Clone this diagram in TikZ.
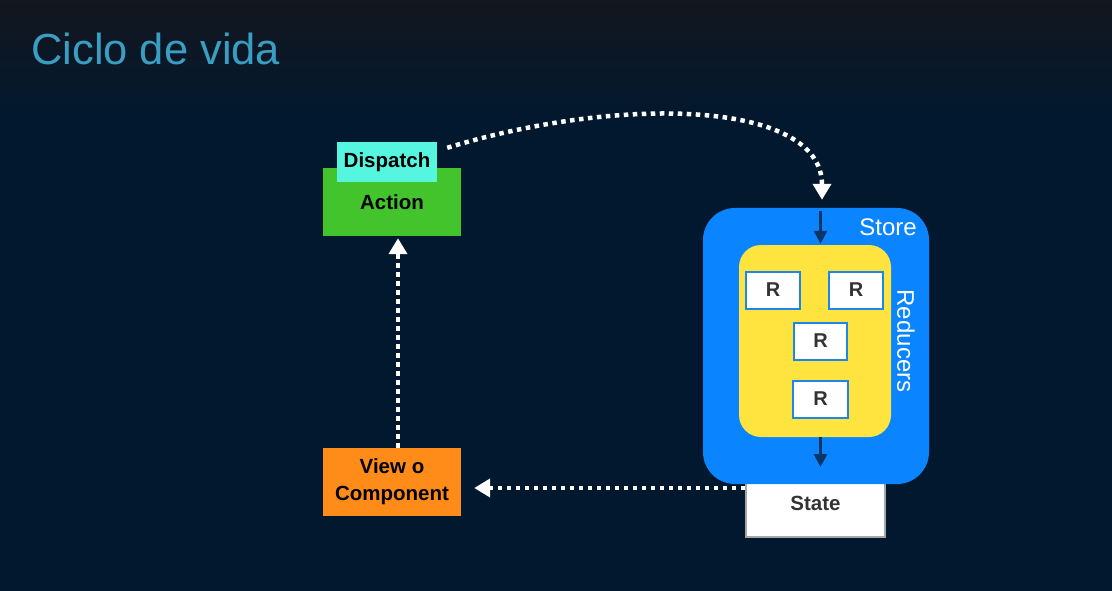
\documentclass[tikz,border=0pt]{standalone}
\usepackage{fontspec}
\setmainfont{Liberation Sans}
\usetikzlibrary{arrows.meta,calc}
\definecolor{bg}{HTML}{02182F}
\definecolor{bgtop}{HTML}{13171E}
\definecolor{titlec}{HTML}{3A9DC2}
\definecolor{actgreen}{HTML}{43C42C}
\definecolor{dispcyan}{HTML}{55F5DF}
\definecolor{vieworange}{HTML}{FF8C19}
\definecolor{storeblue}{HTML}{0A84FF}
\definecolor{redyellow}{HTML}{FFE33F}
\definecolor{rborder}{HTML}{1A86EE}
\definecolor{darktext}{HTML}{333333}
\definecolor{innerarrow}{HTML}{0B3566}
\tikzset{
  box/.style={draw=none, inner sep=0pt, align=center, font=\fontsize{20.5}{27}\selectfont\bfseries, text=black},
  rbox/.style={draw=rborder, line width=2pt, fill=white, minimum width=54pt, minimum height=37pt, inner sep=0pt, font=\fontsize{20}{22}\selectfont\bfseries, text=darktext},
  dotarrow/.style={draw=white, line width=4.5pt, dash pattern=on 4.5pt off 4.5pt, -{Triangle[width=18pt,length=16pt]}},
  innerarr/.style={draw=innerarrow, line width=3pt, -{Triangle[width=13pt,length=13pt]}},
}
\begin{document}
\begin{tikzpicture}[x=1pt,y=-1pt]
\useasboundingbox (0,0) rectangle (1112,591);
\fill[bg] (0,0) rectangle (1112,591);
\shade[top color=bgtop, bottom color=bg] (0,0) rectangle (1112,120);

\node[anchor=base west, inner sep=0pt, text=titlec, font=\fontsize{43.5}{50}\selectfont] (title) at (31,65) {Ciclo de vida};

% Action + Dispatch
\node[box, fill=actgreen, minimum width=138pt, minimum height=68pt] (action) at (392,202) {Action};
\node[box, fill=dispcyan, minimum width=100pt, minimum height=40pt] (dispatch) at (387,162) {\raisebox{-1.5pt}{Dispatch}};

% View
\node[box, fill=vieworange, minimum width=138pt, minimum height=68pt] (view) at (392,482) {View o\\Component};

% State (under the store)
\node[draw=gray!70, line width=2pt, fill=white, minimum width=139pt, minimum height=67pt, inner sep=0pt,
      font=\fontsize{20.5}{24}\selectfont\bfseries, text=darktext] (state) at (815.5,503.5) {State};

% Store
\node[fill=storeblue, rounded corners=32pt, minimum width=226pt, minimum height=276pt, inner sep=0pt] (store) at (816,346) {};
\node[anchor=base east, text=white, inner sep=0pt, font=\fontsize{24}{26}\selectfont] (storelabel) at (917,236) {Store};

% Reducers
\node[fill=redyellow, rounded corners=22pt, minimum width=152pt, minimum height=192pt, inner sep=0pt] (reducers) at (815,341) {};
\node[rotate=-90, text=white, inner sep=0pt, font=\fontsize{24}{26}\selectfont] (redlabel) at (906,341) {Reducers};

\node[rbox] (r1) at (773,290) {R};
\node[rbox] (r2) at (856,290) {R};
\node[rbox, minimum width=53pt] (r3) at (820.5,341) {R};
\node[rbox, minimum width=55pt] (r4) at (820.5,399) {R};

% inner arrows
\coordinate (instart) at ($(store.north)+(4.5,3)$);
\draw[innerarr] (instart) -- ($(reducers.north)+(5.5,-1)$);
\draw[innerarr] ($(reducers.south)+(5.5,0)$) -- ($(state.north)+(5,-2)$);

% dotted connectors
\coordinate (dstart) at ($(dispatch.north east)+(10,6)$);
\coordinate (dend) at ($(store.north)+(6,-8)$);
\draw[dotarrow] (dstart) .. controls (620,95) and (822,100) .. (dend);

\draw[dotarrow] ($(view.north)+(6,0)$) -- ($(action.south)+(6,2)$);

\coordinate (sstart) at ($(state.west)+(0,-15.5)$);
\draw[dotarrow] (sstart) -- ($(view.east)+(13,6)$);
\end{tikzpicture}
\end{document}
